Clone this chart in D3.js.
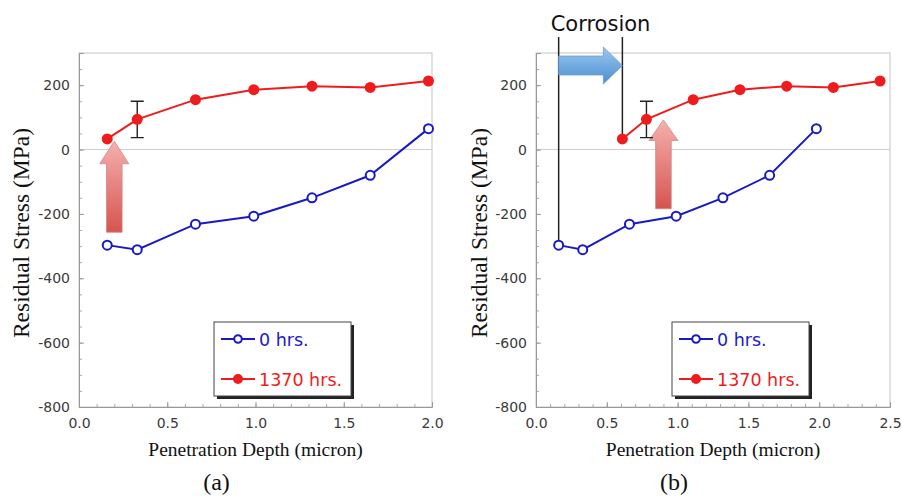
<!DOCTYPE html>
<html>
<head>
<meta charset="utf-8">
<script src="https://cdn.jsdelivr.net/npm/d3@7"></script>
<style>
  body { margin: 0; background: #fff; }
  svg text { font-family: "DejaVu Sans", sans-serif; }
  .serif { font-family: "Liberation Serif", "DejaVu Serif", serif !important; }
</style>
</head>
<body>
<div id="chart"></div>
<script>
// depth (micron) and residual stress (MPa)
const depth0 = [0.16, 0.33, 0.66, 0.99, 1.32, 1.65, 1.98];
const stress0 = [-297, -311, -232, -207, -150, -80, 65];
const depth1370a = [0.16, 0.33, 0.66, 0.99, 1.32, 1.65, 1.98];
const depth1370b = [0.61, 0.78, 1.11, 1.44, 1.77, 2.10, 2.43];
const stress1370 = [33, 94, 155, 186, 197, 193, 213];
const errIndex = 1;
const errLow = 37;
const errHigh = 150;
const yTicks = [-800, -600, -400, -200, 0, 200];
const xTicksA = [0, 0.5, 1.0, 1.5, 2.0];
const xTicksB = [0, 0.5, 1.0, 1.5, 2.0, 2.5];
const seriesNames = ['0 hrs.', '1370 hrs.'];

const W = 902, H = 496;
const blue = '#1a1ac4';
const red = '#ee1c1c';

const svg = d3.select('#chart')
  .append('svg')
  .attr('width', W)
  .attr('height', H);

const defs = svg.append('defs');
const pinkGrad = defs.append('linearGradient')
  .attr('id', 'pinkGrad').attr('x1', 0).attr('y1', 0).attr('x2', 0).attr('y2', 1);
pinkGrad.append('stop').attr('offset', '0%').attr('stop-color', '#f6b0ae');
pinkGrad.append('stop').attr('offset', '100%').attr('stop-color', '#d6544f');
const blueGrad = defs.append('linearGradient')
  .attr('id', 'blueGrad').attr('x1', 0).attr('y1', 0).attr('x2', 0).attr('y2', 1);
blueGrad.append('stop').attr('offset', '0%').attr('stop-color', '#9cc8ee');
blueGrad.append('stop').attr('offset', '100%').attr('stop-color', '#4a8ed3');

// plain hyphen for negatives, like the original
const yFormat = d => String(d);

function drawPanel(opts) {
  const { left, top, w, h, xMax, xTicks, redDepth, label, yTitleX } = opts;
  const g = svg.append('g');

  const x = d3.scaleLinear().domain([0, xMax]).range([left, left + w]);
  const y = d3.scaleLinear().domain([-800, 300]).range([top + h, top]);

  // frame
  g.append('rect')
    .attr('x', left).attr('y', top)
    .attr('width', w).attr('height', h)
    .attr('fill', 'none')
    .attr('stroke', '#c4c4c4');

  // zero line
  g.append('line')
    .attr('x1', x(0)).attr('x2', x(xMax))
    .attr('y1', y(0)).attr('y2', y(0))
    .attr('stroke', '#cfcfcf');

  // minor ticks
  const xMinor = d3.range(0, xMax + 0.001, 0.1);
  const yMinor = d3.range(-800, 301, 50);
  g.append('g')
    .attr('transform', `translate(0,${top + h})`)
    .call(d3.axisBottom(x).tickValues(xMinor).tickFormat('').tickSize(-3))
    .call(s => s.select('.domain').remove())
    .call(s => s.selectAll('line').attr('stroke', '#aaa'));
  g.append('g')
    .attr('transform', `translate(${left},0)`)
    .call(d3.axisLeft(y).tickValues(yMinor).tickFormat('').tickSize(-3))
    .call(s => s.select('.domain').remove())
    .call(s => s.selectAll('line').attr('stroke', '#aaa'));

  // major axes
  g.append('g')
    .attr('transform', `translate(0,${top + h})`)
    .call(d3.axisBottom(x).tickValues(xTicks).tickFormat(d3.format('.1f')).tickSize(-5).tickPadding(11))
    .call(s => s.select('.domain').attr('stroke', '#999'))
    .call(s => s.selectAll('line').attr('stroke', '#999'))
    .call(s => s.selectAll('text')
      .attr('fill', '#3a3a3a')
      .style('font-size', '14px')
      .style('font-family', '"DejaVu Sans", sans-serif'));
  g.append('g')
    .attr('transform', `translate(${left},0)`)
    .call(d3.axisLeft(y).tickValues(yTicks).tickFormat(yFormat).tickSize(-5).tickPadding(9))
    .call(s => s.select('.domain').attr('stroke', '#999'))
    .call(s => s.selectAll('line').attr('stroke', '#999'))
    .call(s => s.selectAll('text')
      .attr('fill', '#3a3a3a')
      .style('font-size', '14px')
      .style('font-family', '"DejaVu Sans", sans-serif'));

  // titles
  g.append('text')
    .attr('class', 'serif')
    .attr('x', left + w / 2)
    .attr('y', top + h + 49)
    .attr('text-anchor', 'middle')
    .attr('fill', '#111')
    .style('font-size', '19.5px')
    .text('Penetration Depth (micron)');
  g.append('text')
    .attr('class', 'serif')
    .attr('transform', `translate(${yTitleX},${top + h / 2 + 3}) rotate(-90)`)
    .attr('text-anchor', 'middle')
    .attr('dominant-baseline', 'central')
    .attr('fill', '#111')
    .style('font-size', '23.5px')
    .text('Residual Stress (MPa)');
  g.append('text')
    .attr('class', 'serif')
    .attr('x', left + w / 2 - 39)
    .attr('y', 490)
    .attr('text-anchor', 'middle')
    .attr('fill', '#111')
    .style('font-size', '24px')
    .text(label);

  // series lines
  const line = d3.line().x(d => x(d[0])).y(d => y(d[1]));
  const pts0 = depth0.map((d, i) => [d, stress0[i]]);
  const pts1 = redDepth.map((d, i) => [d, stress1370[i]]);

  g.append('path')
    .datum(pts0)
    .attr('d', line)
    .attr('fill', 'none')
    .attr('stroke', blue)
    .attr('stroke-width', 2);
  g.append('path')
    .datum(pts1)
    .attr('d', line)
    .attr('fill', 'none')
    .attr('stroke', red)
    .attr('stroke-width', 2);

  return { g, x, y, pts0, pts1 };
}

function drawMarkers(p) {
  const { g, x, y, pts0, pts1 } = p;
  g.selectAll('.m0')
    .data(pts0)
    .enter()
    .append('circle')
    .attr('cx', d => x(d[0]))
    .attr('cy', d => y(d[1]))
    .attr('r', 4.5)
    .attr('fill', '#fff')
    .attr('stroke', blue)
    .attr('stroke-width', 2);
  g.selectAll('.m1')
    .data(pts1)
    .enter()
    .append('circle')
    .attr('cx', d => x(d[0]))
    .attr('cy', d => y(d[1]))
    .attr('r', 5.5)
    .attr('fill', red);
}

function drawErrorBar(p) {
  const { g, x, y, pts1 } = p;
  const ex = x(pts1[errIndex][0]);
  g.append('path')
    .attr('d', `M${ex},${y(errLow)}V${y(errHigh)}M${ex - 6.5},${y(errLow)}H${ex + 6.5}M${ex - 6.5},${y(errHigh)}H${ex + 6.5}`)
    .attr('fill', 'none')
    .attr('stroke', '#222')
    .attr('stroke-width', 1.4);
}

function drawLegend(g, lx, ly) {
  const bw = 137, bh = 74;
  g.append('rect')
    .attr('x', lx + 3).attr('y', ly + 3)
    .attr('width', bw).attr('height', bh)
    .attr('fill', '#222');
  g.append('rect')
    .attr('x', lx).attr('y', ly)
    .attr('width', bw).attr('height', bh)
    .attr('fill', '#fff')
    .attr('stroke', '#444')
    .attr('stroke-width', 1);
  const colors = [blue, red];
  seriesNames.forEach((name, i) => {
    const ry = ly + 17 + i * 40;
    g.append('line')
      .attr('x1', lx + 7).attr('x2', lx + 41)
      .attr('y1', ry).attr('y2', ry)
      .attr('stroke', colors[i])
      .attr('stroke-width', 2);
    g.append('circle')
      .attr('cx', lx + 24).attr('cy', ry)
      .attr('r', i === 0 ? 3.8 : 5)
      .attr('fill', i === 0 ? '#fff' : red)
      .attr('stroke', i === 0 ? blue : 'none')
      .attr('stroke-width', 2);
    g.append('text')
      .attr('x', lx + 45)
      .attr('y', ry + 6.5)
      .attr('fill', colors[i])
      .style('font-size', '17.5px')
      .text(name);
  });
}

function upArrow(g, tipX, tipY, baseY, botY) {
  const hw = 14.5, sw = 7.8;
  g.append('path')
    .attr('d', `M${tipX},${tipY}L${tipX + hw},${baseY}L${tipX + sw},${baseY}L${tipX + sw},${botY}` +
      `L${tipX - sw},${botY}L${tipX - sw},${baseY}L${tipX - hw},${baseY}Z`)
    .attr('fill', 'url(#pinkGrad)')
    .attr('stroke', '#c98a88')
    .attr('stroke-width', 0.8);
}

// panel (a)
const pa = drawPanel({
  left: 79, top: 53, w: 353, h: 354, xMax: 2.0,
  xTicks: xTicksA, redDepth: depth1370a, label: '(a)', yTitleX: 21
});
upArrow(pa.g, pa.x(0.2), pa.y(26), pa.y(-44), pa.y(-257));
drawErrorBar(pa);
drawMarkers(pa);
drawLegend(pa.g, 214, 322);

// panel (b)
const pb = drawPanel({
  left: 536, top: 53, w: 354, h: 354, xMax: 2.5,
  xTicks: xTicksB, redDepth: depth1370b, label: '(b)', yTitleX: 479
});

// corrosion markers
const topY = 37;
[pb.pts0[0], pb.pts1[0]].forEach(d => {
  pb.g.append('line')
    .attr('x1', pb.x(d[0])).attr('x2', pb.x(d[0]))
    .attr('y1', topY).attr('y2', pb.y(d[1]))
    .attr('stroke', '#222')
    .attr('stroke-width', 1.5);
});
pb.g.append('text')
  .attr('x', (pb.x(pb.pts0[0][0]) + pb.x(pb.pts1[0][0])) / 2 + 10)
  .attr('y', 31)
  .attr('text-anchor', 'middle')
  .attr('fill', '#111')
  .style('font-size', '21px')
  .text('Corrosion');

// blue right arrow between the two lines
{
  const x0 = pb.x(pb.pts0[0][0]), x1 = pb.x(pb.pts1[0][0]);
  const cy = 65.5, sh = 9.5, hh = 18.5, hl = 19;
  pb.g.append('path')
    .attr('d', `M${x1},${cy}L${x1 - hl},${cy - hh}L${x1 - hl},${cy - sh}L${x0},${cy - sh}` +
      `L${x0},${cy + sh}L${x1 - hl},${cy + sh}L${x1 - hl},${cy + hh}Z`)
    .attr('fill', 'url(#blueGrad)')
    .attr('stroke', '#6f9cc9')
    .attr('stroke-width', 0.8);
}

upArrow(pb.g, pb.x(0.9), pb.y(92), pb.y(28), pb.y(-184));
drawErrorBar(pb);
drawMarkers(pb);
drawLegend(pb.g, 672, 322);
</script>
</body>
</html>
